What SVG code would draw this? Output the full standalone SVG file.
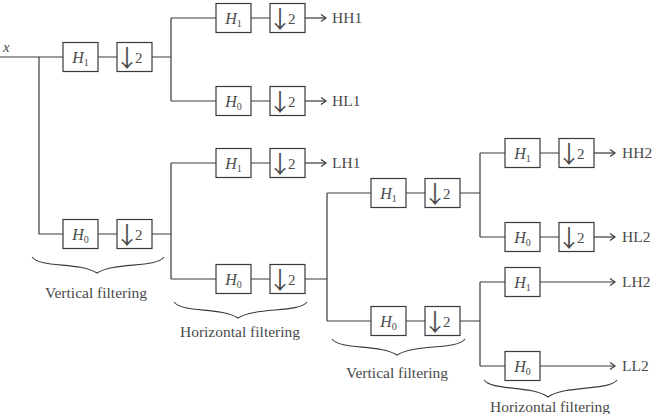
<svg xmlns="http://www.w3.org/2000/svg" width="655" height="414" viewBox="0 0 655 414">
<defs>
<marker id="arr" markerWidth="8" markerHeight="10" refX="6" refY="4" orient="auto" markerUnits="userSpaceOnUse">
<path d="M1,0.5 L6,4 L1,7.5" fill="none" stroke="#3a3a3a" stroke-width="1.2"/>
</marker>
</defs>
<style>
.bx{fill:#fff;stroke:#3a3a3a;stroke-width:1.2}
.ln{fill:none;stroke:#3a3a3a;stroke-width:1.2}
.br{fill:none;stroke:#3a3a3a;stroke-width:1.1}
text{font-family:"Liberation Serif","Times New Roman",serif;fill:#4a4a4a}
.h{font-size:16px;text-anchor:middle}
.h .i{font-style:italic}
.h .s{font-size:10px}
.d{font-size:15px}
.d .a{font-family:"Noto Sans CJK SC",sans-serif;font-size:24px;letter-spacing:-4px}
.o{font-size:15.5px}
.c{font-size:15.5px;text-anchor:middle}
</style>
<rect width="655" height="414" fill="#fff"/>
<g id="connectors">
<path class="ln" d="M0,57 H63 M39,57 V234 H63 M98,57 H117 M152,57 H171 M98,234 H117 M152,234 H171"/>
<path class="ln" d="M171,18 V101 M171,18 H216 M171,101 H216 M251,18 H270 M251,101 H270"/>
<path class="ln" marker-end="url(#arr)" d="M305,18 H326"/>
<path class="ln" marker-end="url(#arr)" d="M305,101 H326"/>
<path class="ln" d="M171,163 V279 M171,163 H216 M171,279 H216 M251,163 H270 M251,279 H270 M305,279 H327"/>
<path class="ln" marker-end="url(#arr)" d="M305,163 H326"/>
<path class="ln" d="M327,193 V321 M327,193 H371 M327,321 H371 M406,193 H425 M460,193 H480 M406,321 H425 M460,321 H480"/>
<path class="ln" d="M480,153 V237 M480,153 H505 M480,237 H505 M540,153 H559 M540,237 H559 M480,282 V366 M480,282 H505 M480,366 H505"/>
<path class="ln" marker-end="url(#arr)" d="M594,153 H615"/>
<path class="ln" marker-end="url(#arr)" d="M594,237 H615"/>
<path class="ln" marker-end="url(#arr)" d="M540,282 H615"/>
<path class="ln" marker-end="url(#arr)" d="M540,366 H615"/>
</g>
<g id="input"><text x="3" y="52" style="font-size:15px;font-style:italic">x</text></g>
<g id="n_h1a"><rect class="bx" x="63" y="42.5" width="35" height="29"/><text class="h" x="80.5" y="63"><tspan class="i">H</tspan><tspan class="s" dy="3">1</tspan></text></g>
<g id="n_d1a"><rect class="bx" x="117" y="42.5" width="35" height="29"/><text class="d" x="115" y="67"><tspan class="a">↓</tspan><tspan dy="-4">2</tspan></text></g>
<g id="n_h0a"><rect class="bx" x="63" y="219.5" width="35" height="29"/><text class="h" x="80.5" y="240"><tspan class="i">H</tspan><tspan class="s" dy="3">0</tspan></text></g>
<g id="n_d0a"><rect class="bx" x="117" y="219.5" width="35" height="29"/><text class="d" x="115" y="244"><tspan class="a">↓</tspan><tspan dy="-4">2</tspan></text></g>
<g id="n_h1b"><rect class="bx" x="216" y="3.5" width="35" height="29"/><text class="h" x="233.5" y="24"><tspan class="i">H</tspan><tspan class="s" dy="3">1</tspan></text></g>
<g id="n_d1b"><rect class="bx" x="270" y="3.5" width="35" height="29"/><text class="d" x="268" y="28"><tspan class="a">↓</tspan><tspan dy="-4">2</tspan></text></g>
<g id="n_h0b"><rect class="bx" x="216" y="86.5" width="35" height="29"/><text class="h" x="233.5" y="107"><tspan class="i">H</tspan><tspan class="s" dy="3">0</tspan></text></g>
<g id="n_d0b"><rect class="bx" x="270" y="86.5" width="35" height="29"/><text class="d" x="268" y="111"><tspan class="a">↓</tspan><tspan dy="-4">2</tspan></text></g>
<g id="n_h1c"><rect class="bx" x="216" y="148.5" width="35" height="29"/><text class="h" x="233.5" y="169"><tspan class="i">H</tspan><tspan class="s" dy="3">1</tspan></text></g>
<g id="n_d1c"><rect class="bx" x="270" y="148.5" width="35" height="29"/><text class="d" x="268" y="173"><tspan class="a">↓</tspan><tspan dy="-4">2</tspan></text></g>
<g id="n_h0c"><rect class="bx" x="216" y="264.5" width="35" height="29"/><text class="h" x="233.5" y="285"><tspan class="i">H</tspan><tspan class="s" dy="3">0</tspan></text></g>
<g id="n_d0c"><rect class="bx" x="270" y="264.5" width="35" height="29"/><text class="d" x="268" y="289"><tspan class="a">↓</tspan><tspan dy="-4">2</tspan></text></g>
<g id="n_h1d"><rect class="bx" x="371" y="178.5" width="35" height="29"/><text class="h" x="388.5" y="199"><tspan class="i">H</tspan><tspan class="s" dy="3">1</tspan></text></g>
<g id="n_d1d"><rect class="bx" x="425" y="178.5" width="35" height="29"/><text class="d" x="423" y="203"><tspan class="a">↓</tspan><tspan dy="-4">2</tspan></text></g>
<g id="n_h0d"><rect class="bx" x="371" y="306.5" width="35" height="29"/><text class="h" x="388.5" y="327"><tspan class="i">H</tspan><tspan class="s" dy="3">0</tspan></text></g>
<g id="n_d0d"><rect class="bx" x="425" y="306.5" width="35" height="29"/><text class="d" x="423" y="331"><tspan class="a">↓</tspan><tspan dy="-4">2</tspan></text></g>
<g id="n_h1e"><rect class="bx" x="505" y="138.5" width="35" height="29"/><text class="h" x="522.5" y="159"><tspan class="i">H</tspan><tspan class="s" dy="3">1</tspan></text></g>
<g id="n_d1e"><rect class="bx" x="559" y="138.5" width="35" height="29"/><text class="d" x="557" y="163"><tspan class="a">↓</tspan><tspan dy="-4">2</tspan></text></g>
<g id="n_h0e"><rect class="bx" x="505" y="222.5" width="35" height="29"/><text class="h" x="522.5" y="243"><tspan class="i">H</tspan><tspan class="s" dy="3">0</tspan></text></g>
<g id="n_d0e"><rect class="bx" x="559" y="222.5" width="35" height="29"/><text class="d" x="557" y="247"><tspan class="a">↓</tspan><tspan dy="-4">2</tspan></text></g>
<g id="n_h1f"><rect class="bx" x="505" y="267.5" width="35" height="29"/><text class="h" x="522.5" y="288"><tspan class="i">H</tspan><tspan class="s" dy="3">1</tspan></text></g>
<g id="n_h0f"><rect class="bx" x="505" y="351.5" width="35" height="29"/><text class="h" x="522.5" y="372"><tspan class="i">H</tspan><tspan class="s" dy="3">0</tspan></text></g>
<g id="outputs">
<text class="o" x="332" y="23">HH1</text>
<text class="o" x="332" y="106">HL1</text>
<text class="o" x="332" y="168">LH1</text>
<text class="o" x="622" y="158">HH2</text>
<text class="o" x="622" y="242">HL2</text>
<text class="o" x="622" y="287">LH2</text>
<text class="o" x="622" y="371">LL2</text>
</g>
<g id="brace1"><path class="br" d="M32,257 C40,268 80,262 97,273 C114,262 156,268 164,257"/><text class="c" x="96" y="298">Vertical filtering</text></g>
<g id="brace2"><path class="br" d="M174,302 C182,313 221,307 238,318 C255,307 299,313 307,302"/><text class="c" x="240" y="337">Horizontal filtering</text></g>
<g id="brace3"><path class="br" d="M332,339 C340,350 380,344 397,355 C414,344 457,350 465,339"/><text class="c" x="397" y="378">Vertical filtering</text></g>
<g id="brace4"><path class="br" d="M484,380 C492,391 531,385 548,397 C565,385 609,391 617,380"/><text class="c" x="550" y="412">Horizontal filtering</text></g>
</svg>
